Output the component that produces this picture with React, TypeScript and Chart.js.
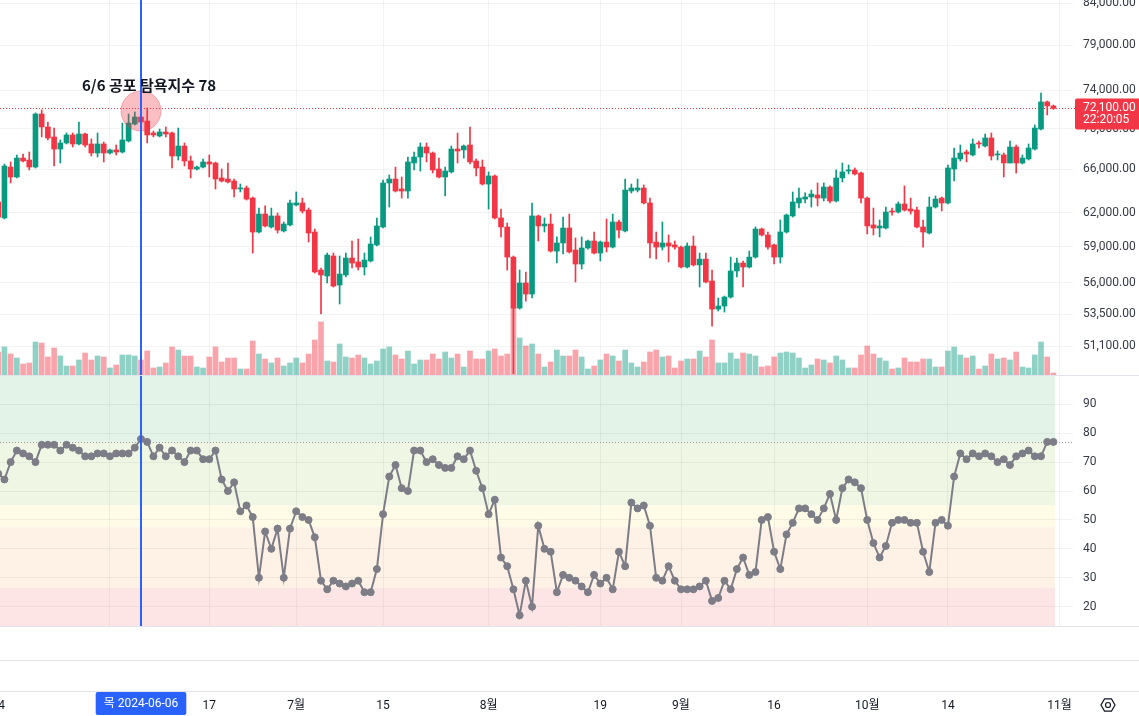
import React, { useEffect, useRef } from 'react';
import { Chart, registerables } from 'chart.js';

Chart.register(...registerables);

// ---------------- data (daily, first bar = 2024-05-14, day 0 = 2024-06-06) ----------------
const FIRST_DAY_OFFSET = -23;

// [open, high, low, close]
const OHLC: [number, number, number, number][] = [
  [62960, 63140, 61340, 61600], [61520, 66520, 61430, 66330], [66230, 66720, 64720, 65280], [65280, 67400, 65190, 67100],
  [67100, 67490, 66720, 66810], [66910, 67690, 65950, 66230], [66230, 71630, 66140, 71520], [71520, 71940, 69180, 70190],
  [70190, 70700, 68880, 69080], [69180, 70080, 66330, 67980], [67980, 68880, 66620, 68580], [68580, 69580, 68480, 69380],
  [69380, 69580, 68180, 68480], [68480, 70700, 68380, 69480], [69480, 69580, 68180, 68380], [68480, 68980, 67300, 67590],
  [67590, 69580, 67200, 68480], [68480, 68680, 66720, 67590], [67590, 67980, 67490, 67890], [67890, 68380, 67400, 67690],
  [67690, 70590, 67590, 68880], [68780, 71520, 68680, 70590], [70490, 71730, 70390, 71210],
  // 2024-06-06
  [71210, 71830, 69880, 70700], [70800, 72150, 68580, 69380], [69580, 69780, 69180, 69380], [69280, 69980, 69180, 69680],
  [69680, 70190, 69180, 69480], [69580, 69680, 66140, 67300], [67300, 70080, 66910, 68280], [68280, 68580, 66330, 66810],
  [66810, 67300, 65190, 66040], [66040, 66330, 65950, 66230], [66230, 67010, 66140, 66720], [66720, 67400, 65280, 66520],
  [66620, 66700, 64160, 65090], [65190, 66040, 64810, 64900], [65090, 66620, 64720, 64810], [64900, 65090, 63420, 64160],
  [64160, 64620, 63880, 64250], [64250, 64440, 63140, 63230], [63320, 63420, 58470, 60280], [60280, 62410, 60190, 61870],
  [61870, 62600, 60720, 60810], [60720, 62410, 60630, 61700], [61700, 61960, 60190, 60450], [60370, 61160, 60280, 60980],
  [60900, 63140, 60810, 62870], [62690, 63880, 62600, 62870], [62870, 63320, 61960, 62140], [62230, 62410, 59410, 60190],
  [60280, 60540, 56800, 56890], [57050, 57220, 53530, 56640], [56560, 58470, 55990, 58300], [58220, 58470, 55660, 55740],
  [55820, 58220, 54310, 56720], [56640, 58470, 56480, 58050], [58050, 59500, 57220, 57630], [57720, 59670, 57050, 57300],
  [57300, 58470, 56640, 57880], [57800, 59850, 57720, 59240], [59160, 61520, 59070, 60810], [60720, 65000, 60630, 64720],
  [64720, 65470, 62500, 65090], [65090, 66230, 63880, 63970], [64160, 65280, 63320, 63970], [63970, 67200, 63320, 66720],
  [66620, 67690, 65950, 67200], [67200, 68580, 65850, 68180], [68180, 68580, 66720, 67590], [67590, 67690, 65660, 65950],
  [66040, 67100, 65200, 65280], [65280, 66230, 63510, 65850], [65760, 68280, 65660, 67980], [67980, 69580, 66620, 67790],
  [67890, 68380, 67100, 68280], [68380, 70190, 66520, 66720], [66810, 67010, 65380, 66140], [66230, 66910, 64530, 64620],
  [64620, 65760, 62320, 65380], [65380, 65470, 61430, 61520], [61520, 62320, 59850, 60720], [60720, 61070, 57050, 58130],
  [58130, 58220, 49100, 53990], [53990, 57050, 53910, 55990], [55990, 56890, 54540, 55100], [55100, 62870, 54780, 61700],
  [61700, 61780, 59500, 60810], [60810, 61520, 60280, 60980], [60980, 61870, 58560, 58640], [58640, 59850, 57630, 59330],
  [59330, 61600, 58390, 60630], [60630, 61870, 58470, 58560], [58730, 59760, 56070, 57550], [57550, 59850, 57130, 58900],
  [58900, 59580, 58810, 59500], [59500, 60280, 58390, 58470], [58470, 59500, 57800, 59410], [59410, 61430, 58560, 58980],
  [58980, 61870, 58900, 61160], [61160, 61340, 59760, 60450], [60370, 65090, 60280, 64060], [63970, 64620, 63790, 64250],
  [64060, 65090, 63880, 64250], [64250, 64530, 62780, 62870], [62870, 63320, 58050, 59330], [59410, 60280, 57970, 58980],
  [58980, 61160, 58730, 59330], [59330, 60020, 57720, 59070], [59160, 59500, 58810, 58980], [58980, 59070, 57220, 57300],
  [57300, 59330, 57220, 59070], [59070, 59930, 57380, 57470], [57470, 58470, 55660, 57960], [57960, 58470, 55990, 56070],
  [56150, 57050, 52600, 53910], [53910, 54780, 53760, 54150], [54150, 54940, 53680, 54860], [54860, 58130, 54780, 56970],
  [56970, 58050, 56480, 57630], [57630, 57800, 55660, 57300], [57300, 58640, 57220, 58130], [58130, 60720, 58050, 60540],
  [60540, 60630, 59930, 60020], [60020, 60280, 58810, 58980], [59160, 59240, 57550, 58130], [58130, 61340, 57630, 60280],
  [60280, 61870, 60190, 61780], [61700, 63880, 61600, 62960], [62870, 64250, 62410, 63320], [63230, 63790, 62870, 63420],
  [63420, 64060, 62500, 63690], [63600, 64720, 62600, 63320], [63320, 64720, 63050, 64340], [64340, 64440, 62870, 63050],
  [63050, 65950, 62960, 65190], [65190, 66620, 64810, 65760], [65850, 66430, 65570, 65950], [65950, 66140, 65470, 65570],
  [65660, 65760, 62870, 63320], [63320, 63420, 60110, 60810], [60900, 62410, 60020, 60630], [60630, 61340, 59850, 60810],
  [60630, 62500, 60540, 62050], [62140, 62410, 61780, 62050], [62050, 62960, 61960, 62780], [62780, 64440, 62140, 62230],
  [62320, 63320, 61870, 62140], [62230, 62500, 60630, 60720], [60720, 61340, 58980, 60280], [60190, 63420, 60110, 62500],
  [62500, 63510, 62410, 63230], [63320, 63420, 62140, 62870], [62870, 66430, 62780, 66140], [66040, 68080, 64900, 67100],
  [67010, 68380, 66810, 67590], [67690, 67890, 66720, 67490], [67400, 68980, 67300, 68480], [68580, 68780, 68080, 68480],
  [68280, 69480, 68180, 69080], [69080, 69580, 66910, 67300], [67400, 67790, 66910, 67490], [67400, 67590, 65280, 66620],
  [66620, 68780, 66620, 68180], [68180, 68380, 65660, 66620], [66620, 67400, 66520, 67100], [67010, 68480, 66910, 68080],
  [67980, 70390, 67890, 70080], [69980, 73730, 69880, 72780], [72780, 72880, 71420, 72360], [72360, 72460, 72000, 72100],
];

// volume (thousands, arbitrary units)
const VOLUME = [
  23, 28, 21, 17, 11, 12, 33, 32, 18, 27, 19, 9, 9, 15, 22, 15, 19, 18, 7, 10, 20, 20, 19,
  15, 24, 7, 8, 12, 28, 25, 19, 19, 8, 7, 18, 28, 13, 17, 17, 6, 6, 34, 21, 16,
  12, 17, 9, 12, 17, 12, 21, 35, 53, 14, 13, 31, 18, 17, 20, 17, 11, 14, 26, 28,
  20, 16, 24, 11, 15, 15, 21, 16, 23, 17, 21, 8, 24, 16, 16, 24, 26, 19, 21, 67,
  37, 29, 31, 21, 8, 13, 25, 19, 19, 25, 18, 6, 9, 15, 21, 19, 14, 25, 12, 8,
  13, 23, 25, 18, 19, 7, 14, 16, 16, 24, 18, 35, 12, 12, 22, 16, 22, 21, 19, 8,
  9, 18, 22, 23, 22, 17, 7, 10, 16, 15, 12, 19, 15, 7, 7, 20, 29, 21, 17, 14,
  6, 7, 17, 13, 13, 16, 16, 8, 8, 24, 28, 20, 17, 19, 6, 9, 21, 16, 17, 15,
  23, 8, 7, 20, 33, 18, 2,
];

// Fear & Greed index
const FEAR_GREED = [
  66, 64, 70, 74, 73, 72, 70, 76, 76, 76, 74, 76, 75, 74, 72, 72, 73, 73, 72, 73, 73, 73, 75,
  78, 77, 72, 75, 72, 74, 72, 70, 74, 74, 71, 71, 74, 64, 60, 63, 53, 55, 51, 30, 46,
  40, 47, 30, 47, 53, 51, 50, 44, 29, 26, 29, 28, 27, 28, 29, 25, 25, 33, 52, 65,
  69, 61, 60, 74, 74, 70, 71, 69, 68, 68, 72, 71, 74, 67, 61, 52, 57, 37, 34, 26,
  17, 29, 20, 48, 40, 39, 25, 31, 30, 29, 27, 25, 31, 28, 30, 26, 39, 34, 56, 54,
  55, 48, 30, 29, 34, 29, 26, 26, 26, 27, 29, 22, 23, 29, 26, 33, 37, 31, 32, 50,
  51, 39, 33, 45, 49, 54, 54, 52, 50, 54, 59, 50, 61, 64, 63, 61, 50, 42, 37, 41,
  49, 50, 50, 49, 49, 39, 32, 49, 50, 48, 65, 73, 71, 73, 72, 73, 72, 70, 71, 69,
  72, 73, 74, 72, 72, 77, 77,
];

const PRICE_TICKS = [51100, 53500, 56000, 59000, 62000, 66000, 70000, 74000, 79000, 84000];
const FG_TICKS = [20, 30, 40, 50, 60, 70, 80, 90];
const FG_ZONES = [100, 77, 55, 47.5, 26.5, 0];
const TIME_TICK_DAYS = [-23, -5, 11, 25, 39, 56, 74, 87, 102, 117, 130, 148];
const TIME_TICK_LABELS = ['14', '6월', '17', '7월', '15', '8월', '19', '9월', '16', '10월', '14', '11월'];

const LAST_PRICE = 72100;
const LAST_FG = 77;
const COUNTDOWN = '22:20:05';
const CURSOR_DAY = 0;
const CURSOR_LABEL = '목 2024-06-06';
const ANNOTATION = '6/6 공포 탐욕지수 78';

// ---------------- layout / style ----------------
const W = 1139;
const PLOT_R = 1073;
const PX_DAY = 6.207;
const X_MIN = -141 / PX_DAY;
const X_MAX_PLOT = X_MIN + PLOT_R / PX_DAY;
const X_MAX_FULL = X_MIN + W / PX_DAY;
const H_A = 375;
const H_B = 251;
const H_C = 90;

const UP = '#089981';
const DOWN = '#F23645';
const VOL_UP = 'rgba(8,153,129,0.45)';
const VOL_DOWN = 'rgba(242,54,69,0.45)';
const GRID = 'rgba(42,46,57,0.06)';
const SEP = '#E0E3EB';
const TEXT = '#363A45';
const BLUE = '#2962FF';
const FG_LINE = '#7D7D87';
const ZONE_COLORS = ['#E3F3E7', '#EFF6E4', '#FEFBE7', '#FEF2E7', '#FDE5E5'];
const FONT = "Roboto, 'Noto Sans CJK KR', sans-serif";

const DAYS = OHLC.map((_, i) => i + FIRST_DAY_OFFSET);
const isUp = (i: number) => OHLC[i][3] >= OHLC[i][0];
const fmtPrice = (v: number) => Number(v).toLocaleString('en-US', { minimumFractionDigits: 2, maximumFractionDigits: 2 });

function gridX(max: number): any {
  return {
    type: 'linear', min: X_MIN, max, offset: false,
    grid: { color: GRID, drawTicks: false, offset: false },
    border: { display: false },
    ticks: { display: false },
    afterBuildTicks: (s: any) => { s.ticks = TIME_TICK_DAYS.map((v) => ({ value: v })); },
    afterFit: (s: any) => { s.height = 0; s.paddingLeft = 0; s.paddingRight = 0; s.paddingTop = 0; s.paddingBottom = 0; },
  };
}

function rightAxis(extra: any, ticks: number[], fmt: (v: number) => string): any {
  return {
    position: 'right',
    ...extra,
    grid: { color: GRID, drawTicks: false },
    border: { display: false },
    ticks: {
      padding: 10, color: TEXT, font: { family: FONT, size: 12 }, autoSkip: false, crossAlign: 'near',
      callback: (v: any) => fmt(Number(v)),
    },
    afterBuildTicks: (s: any) => { s.ticks = ticks.map((v) => ({ value: v })); },
    afterFit: (s: any) => { s.width = W - PLOT_R; s.paddingTop = 0; s.paddingBottom = 0; },
  };
}

const cursorIdx = DAYS.indexOf(CURSOR_DAY);

const priceOverlay = {
  id: 'priceOverlay',
  beforeDatasetsDraw(chart: any) {
    const { ctx, chartArea, scales } = chart;
    const y = Math.round(scales.price.getPixelForValue(LAST_PRICE)) + 0.5;
    ctx.save();
    ctx.strokeStyle = DOWN;
    ctx.lineWidth = 1;
    ctx.setLineDash([1, 2]);
    ctx.beginPath();
    ctx.moveTo(chartArea.left, y);
    ctx.lineTo(PLOT_R + 2, y);
    ctx.stroke();
    ctx.restore();
  },
  afterDatasetsDraw(chart: any) {
    const { ctx, scales } = chart;
    const x = scales.x.getPixelForValue(CURSOR_DAY);
    const cy = scales.price.getPixelForValue(OHLC[cursorIdx][1]);
    ctx.save();
    ctx.fillStyle = 'rgba(242,54,69,0.32)';
    ctx.strokeStyle = 'rgba(242,54,69,0.35)';
    ctx.lineWidth = 1;
    ctx.beginPath();
    ctx.arc(x, cy, 20, 0, Math.PI * 2);
    ctx.fill();
    ctx.stroke();
    ctx.strokeStyle = BLUE;
    ctx.lineWidth = 2;
    ctx.beginPath();
    ctx.moveTo(x, 0);
    ctx.lineTo(x, H_A);
    ctx.stroke();
    ctx.restore();
  },
  afterDraw(chart: any) {
    const { ctx, scales } = chart;
    const yp = scales.price.getPixelForValue(LAST_PRICE);
    ctx.save();
    ctx.fillStyle = DOWN;
    ctx.beginPath();
    (ctx as any).roundRect(PLOT_R + 2, yp - 10, W - PLOT_R - 2, 31, [2, 0, 0, 2]);
    ctx.fill();
    ctx.fillStyle = '#FFFFFF';
    ctx.font = `12px ${FONT}`;
    ctx.textAlign = 'left';
    ctx.textBaseline = 'middle';
    ctx.fillText(fmtPrice(LAST_PRICE), PLOT_R + 10, yp);
    ctx.fillText(COUNTDOWN, PLOT_R + 10, yp + 12);
    ctx.fillStyle = '#131722';
    ctx.font = `bold 15px 'Noto Sans CJK KR', sans-serif`;
    ctx.fillText(ANNOTATION, 82, 85);
    ctx.restore();
  },
};

const fgOverlay = {
  id: 'fgOverlay',
  beforeDraw(chart: any) {
    const { ctx, chartArea, scales } = chart;
    const yS = scales.fg;
    const xr = scales.x.getPixelForValue(DAYS[DAYS.length - 1] + 0.25);
    ctx.save();
    for (let i = 0; i < ZONE_COLORS.length; i++) {
      const top = Math.max(chartArea.top, yS.getPixelForValue(FG_ZONES[i]));
      const bot = Math.min(chartArea.bottom, yS.getPixelForValue(FG_ZONES[i + 1]));
      ctx.fillStyle = ZONE_COLORS[i];
      ctx.fillRect(chartArea.left, top, xr - chartArea.left, bot - top);
    }
    ctx.restore();
  },
  beforeDatasetsDraw(chart: any) {
    const { ctx, chartArea, scales } = chart;
    const y = Math.round(scales.fg.getPixelForValue(LAST_FG)) + 0.5;
    ctx.save();
    ctx.strokeStyle = '#9598A1';
    ctx.lineWidth = 1;
    ctx.setLineDash([1, 2]);
    ctx.beginPath();
    ctx.moveTo(chartArea.left, y);
    ctx.lineTo(PLOT_R, y);
    ctx.stroke();
    ctx.restore();
  },
  afterDatasetsDraw(chart: any) {
    const { ctx, scales } = chart;
    const x = scales.x.getPixelForValue(CURSOR_DAY);
    ctx.save();
    ctx.strokeStyle = BLUE;
    ctx.lineWidth = 2;
    ctx.beginPath();
    ctx.moveTo(x, 0);
    ctx.lineTo(x, H_B);
    ctx.stroke();
    ctx.strokeStyle = SEP;
    ctx.lineWidth = 1;
    ctx.beginPath();
    ctx.moveTo(0, 0.5);
    ctx.lineTo(W, 0.5);
    ctx.stroke();
    ctx.restore();
  },
};

const axisOverlay = {
  id: 'axisOverlay',
  afterDraw(chart: any) {
    const { ctx, scales } = chart;
    ctx.save();
    ctx.strokeStyle = SEP;
    ctx.lineWidth = 1;
    [0.5, 34.5, 65.5].forEach((y) => {
      ctx.beginPath();
      ctx.moveTo(0, y);
      ctx.lineTo(W, y);
      ctx.stroke();
    });
    const x = scales.x.getPixelForValue(CURSOR_DAY);
    ctx.font = `12px ${FONT}`;
    const tw = ctx.measureText(CURSOR_LABEL).width;
    const bw = tw + 16;
    ctx.fillStyle = BLUE;
    ctx.beginPath();
    (ctx as any).roundRect(x - bw / 2, 66, bw, 23, 2);
    ctx.fill();
    ctx.fillStyle = '#FFFFFF';
    ctx.textAlign = 'center';
    ctx.textBaseline = 'middle';
    ctx.fillText(CURSOR_LABEL, x, 78);
    // settings icon
    const gx = 1108, gy = 79;
    ctx.strokeStyle = '#131722';
    ctx.lineWidth = 1.2;
    ctx.beginPath();
    for (let k = 0; k < 6; k++) {
      const a = (Math.PI / 3) * k;
      const px = gx + 7 * Math.cos(a), py = gy + 7 * Math.sin(a);
      if (k === 0) ctx.moveTo(px, py); else ctx.lineTo(px, py);
    }
    ctx.closePath();
    ctx.stroke();
    ctx.beginPath();
    ctx.arc(gx, gy, 2.5, 0, Math.PI * 2);
    ctx.stroke();
    ctx.restore();
  },
};

export default function App() {
  const refA = useRef<HTMLCanvasElement>(null);
  const refB = useRef<HTMLCanvasElement>(null);
  const refC = useRef<HTMLCanvasElement>(null);

  useEffect(() => {
    const common: any = {
      responsive: false,
      maintainAspectRatio: false,
      animation: false,
      devicePixelRatio: 1,
      events: [],
      layout: { padding: 0, autoPadding: false },
      plugins: { legend: { display: false }, tooltip: { enabled: false } },
    };

    const candleColors = OHLC.map((_, i) => (isUp(i) ? UP : DOWN));
    const volColors = OHLC.map((_, i) => (isUp(i) ? VOL_UP : VOL_DOWN));

    const chartA = new Chart(refA.current as HTMLCanvasElement, {
      type: 'bar',
      data: {
        datasets: [
          {
            label: 'Volume', yAxisID: 'vol', xAxisID: 'x', order: 3, grouped: false,
            data: VOLUME.map((v, i) => ({ x: DAYS[i], y: v })),
            backgroundColor: volColors, barThickness: 5, borderWidth: 0,
          } as any,
          {
            label: 'Wick', yAxisID: 'price', xAxisID: 'x', order: 2, grouped: false,
            data: OHLC.map((c, i) => ({ x: DAYS[i], y: [c[2], c[1]] })),
            backgroundColor: candleColors, barThickness: 1, borderWidth: 0,
          } as any,
          {
            label: 'Body', yAxisID: 'price', xAxisID: 'x', order: 1, grouped: false,
            data: OHLC.map((c, i) => ({ x: DAYS[i], y: [c[0], c[3]] })),
            backgroundColor: candleColors, barThickness: 5, minBarLength: 1, borderWidth: 0,
          } as any,
        ],
      },
      options: {
        ...common,
        scales: {
          x: gridX(X_MAX_PLOT),
          price: rightAxis({ type: 'logarithmic', min: 49000, max: 84366 }, PRICE_TICKS, fmtPrice),
          vol: { type: 'linear', display: false, min: 0, max: H_A },
        },
      },
      plugins: [priceOverlay],
    } as any);

    const chartB = new Chart(refB.current as HTMLCanvasElement, {
      type: 'line',
      data: {
        datasets: [
          {
            label: '공포 탐욕지수', yAxisID: 'fg', xAxisID: 'x',
            data: FEAR_GREED.map((v, i) => ({ x: DAYS[i], y: v })),
            borderColor: FG_LINE, backgroundColor: FG_LINE, borderWidth: 2,
            pointRadius: 3.5, pointBorderWidth: 1, pointBorderColor: FG_LINE, pointBackgroundColor: FG_LINE,
            tension: 0,
          } as any,
        ],
      },
      options: {
        ...common,
        scales: {
          x: gridX(X_MAX_PLOT),
          fg: rightAxis({ type: 'linear', min: 13.32, max: 100.13 }, FG_TICKS, (v) => String(v)),
        },
      },
      plugins: [fgOverlay],
    } as any);

    const chartC = new Chart(refC.current as HTMLCanvasElement, {
      type: 'line',
      data: { datasets: [] },
      options: {
        ...common,
        scales: {
          x: {
            type: 'linear', min: X_MIN, max: X_MAX_FULL, position: 'bottom', offset: false,
            grid: { display: false, drawTicks: false },
            border: { display: false },
            ticks: {
              padding: 8, color: '#131722', font: { family: FONT, size: 12 }, autoSkip: false,
              minRotation: 0, maxRotation: 0,
              callback: (v: any) => {
                const k = TIME_TICK_DAYS.indexOf(Number(v));
                return k >= 0 ? TIME_TICK_LABELS[k] : '';
              },
            },
            afterBuildTicks: (s: any) => { s.ticks = TIME_TICK_DAYS.map((v) => ({ value: v })); },
            afterFit: (s: any) => { s.height = 25; s.paddingLeft = 0; s.paddingRight = 0; },
          },
          y: { display: false, min: 0, max: 1 },
        },
      },
      plugins: [axisOverlay],
    } as any);

    return () => {
      chartA.destroy();
      chartB.destroy();
      chartC.destroy();
    };
  }, []);

  return (
    <div style={{ position: 'absolute', left: 0, top: 0, width: W, height: 716, background: '#FFFFFF', overflow: 'hidden' }}>
      <canvas ref={refA} width={W} height={H_A} style={{ position: 'absolute', left: 0, top: 0 }} />
      <canvas ref={refB} width={W} height={H_B} style={{ position: 'absolute', left: 0, top: H_A }} />
      <canvas ref={refC} width={W} height={H_C} style={{ position: 'absolute', left: 0, top: H_A + H_B }} />
    </div>
  );
}
